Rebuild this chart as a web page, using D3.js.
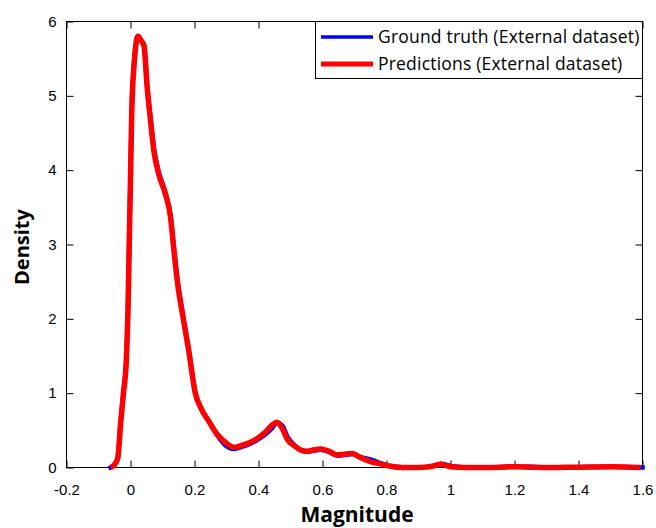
<!DOCTYPE html>
<html>
<head>
<meta charset="utf-8">
<script src="https://cdn.jsdelivr.net/npm/d3@7"></script>
<style>
  html, body { margin: 0; padding: 0; background: #fff; }
  svg { display: block; font-family: "Open Sans", "Noto Sans", sans-serif; }
</style>
</head>
<body>
<svg id="chart" width="656" height="528"></svg>
<script>
// Kernel density estimates of the magnitude, external dataset
const magnitude = [
  -0.062, -0.052, -0.040, -0.031, -0.022, -0.013, -0.008, -0.004, 0.0, 0.004,
  0.010, 0.0235, 0.033, 0.042, 0.052, 0.0625, 0.073, 0.088, 0.109, 0.125,
  0.135, 0.148, 0.161, 0.182, 0.203, 0.22, 0.245, 0.27, 0.296, 0.323,
  0.35, 0.375, 0.396, 0.42, 0.44, 0.458, 0.475, 0.49, 0.51, 0.53,
  0.552, 0.575, 0.594, 0.62, 0.645, 0.67, 0.693, 0.72, 0.75, 0.78,
  0.81, 0.85, 0.9, 0.94, 0.97, 1.0, 1.05, 1.1, 1.2, 1.25,
  1.3, 1.4, 1.5, 1.6
];
const groundTruth = [
  0.0, 0.03, 0.13, 0.60, 1.02, 1.47, 2.12, 3.02, 3.92, 4.82,
  5.37, 5.80, 5.75, 5.68, 5.14, 4.70, 4.30, 3.98, 3.70, 3.39,
  2.98, 2.48, 2.12, 1.58, 1.00, 0.80, 0.62, 0.44, 0.30, 0.25,
  0.28, 0.32, 0.37, 0.44, 0.52, 0.60, 0.56, 0.42, 0.31, 0.24,
  0.21, 0.23, 0.24, 0.21, 0.16, 0.17, 0.18, 0.14, 0.11, 0.06,
  0.02, 0.0, 0.0, 0.01, 0.05, 0.02, 0.0, 0.0, 0.01, 0.01,
  0.0, 0.005, 0.01, 0.0
];
const predictions = [
  0.0, 0.03, 0.12, 0.59, 1.0, 1.45, 2.1, 3.0, 3.9, 4.8,
  5.35, 5.80, 5.74, 5.68, 5.12, 4.67, 4.26, 3.95, 3.68, 3.37,
  2.95, 2.45, 2.10, 1.57, 0.99, 0.80, 0.62, 0.45, 0.34, 0.27,
  0.30, 0.34, 0.39, 0.47, 0.56, 0.61, 0.52, 0.38, 0.30, 0.24,
  0.22, 0.24, 0.25, 0.22, 0.17, 0.18, 0.19, 0.13, 0.08, 0.05,
  0.02, 0.0, 0.0, 0.015, 0.045, 0.01, 0.0, 0.0, 0.01, 0.005,
  0.0, 0.005, 0.01, 0.0
];
const seriesNames = ["Ground truth (External dataset)", "Predictions (External dataset)"];
const seriesColors = ["#0000ff", "#ff0000"];
const xTicks = [-0.2, 0, 0.2, 0.4, 0.6, 0.8, 1, 1.2, 1.4, 1.6];
const yTicks = [0, 1, 2, 3, 4, 5, 6];

const svg = d3.select("#chart");
const plotL = 66.5, plotR = 642.5, plotT = 21.5, plotB = 467.5;

const x = d3.scaleLinear().domain([-0.2, 1.6]).range([plotL, plotR]);
const y = d3.scaleLinear().domain([0, 6]).range([plotB, plotT]);

const fmt = d => String(d);

// axes with inward ticks on all four sides
const gx = svg.append("g").attr("transform", `translate(0,${plotB})`)
  .call(d3.axisBottom(x).tickValues(xTicks).tickFormat(fmt).tickSizeInner(-7).tickSizeOuter(0).tickPadding(17));
const gy = svg.append("g").attr("transform", `translate(${plotL},0)`)
  .call(d3.axisLeft(y).tickValues(yTicks).tickFormat(fmt).tickSizeInner(-7).tickSizeOuter(0).tickPadding(10));
const gt = svg.append("g").attr("transform", `translate(0,${plotT})`)
  .call(d3.axisTop(x).tickValues(xTicks).tickFormat("").tickSizeInner(-7).tickSizeOuter(0));
const gr = svg.append("g").attr("transform", `translate(${plotR},0)`)
  .call(d3.axisRight(y).tickValues(yTicks).tickFormat("").tickSizeInner(-7).tickSizeOuter(0));

[gx, gy, gt, gr].forEach(g => {
  g.select(".domain").remove();
  g.selectAll(".tick line").attr("stroke", "#000").attr("stroke-width", 1);
  g.selectAll(".tick text").attr("fill", "#000").style("font-size", "15px");
});

// plot box
svg.append("rect")
  .attr("x", plotL).attr("y", plotT)
  .attr("width", plotR - plotL).attr("height", plotB - plotT)
  .attr("fill", "none").attr("stroke", "#000").attr("stroke-width", 1);

// density curves
const line = d3.line().x(d => x(d[0])).y(d => y(d[1])).curve(d3.curveMonotoneX);
const gtPts = magnitude.map((m, i) => [m, groundTruth[i]]);
const prPts = magnitude.map((m, i) => [m, predictions[i]]);

svg.append("path").datum(gtPts)
  .attr("d", line).attr("fill", "none")
  .attr("stroke", seriesColors[0]).attr("stroke-width", 4.5)
  .attr("stroke-linejoin", "round").attr("stroke-linecap", "square");
svg.append("path").datum(prPts.slice(0, -1).concat([[1.594, 0]]))
  .attr("d", line).attr("fill", "none")
  .attr("stroke", seriesColors[1]).attr("stroke-width", 5.5)
  .attr("stroke-linejoin", "round").attr("stroke-linecap", "butt");

// axis titles
svg.append("text")
  .attr("x", 357).attr("y", 522)
  .attr("text-anchor", "middle")
  .style("font-size", "21px").style("font-weight", "bold")
  .text("Magnitude");
svg.append("text")
  .attr("transform", "translate(29,247) rotate(-90)")
  .attr("text-anchor", "middle")
  .style("font-size", "20px").style("font-weight", "bold")
  .text("Density");

// legend
const lg = svg.append("g");
lg.append("rect")
  .attr("x", 315.5).attr("y", plotT)
  .attr("width", plotR - 315.5).attr("height", 78.5 - plotT)
  .attr("fill", "#fff").attr("stroke", "#000").attr("stroke-width", 1);
seriesNames.forEach((name, i) => {
  const cy = 37 + i * 27;
  lg.append("line")
    .attr("x1", 321).attr("x2", 373).attr("y1", cy).attr("y2", cy)
    .attr("stroke", seriesColors[i]).attr("stroke-width", i === 0 ? 3.5 : 5);
  lg.append("text")
    .attr("x", 378).attr("y", cy + 6)
    .style("font-size", "17.5px")
    .style("letter-spacing", "0.2px")
    .text(name);
});
</script>
</body>
</html>
